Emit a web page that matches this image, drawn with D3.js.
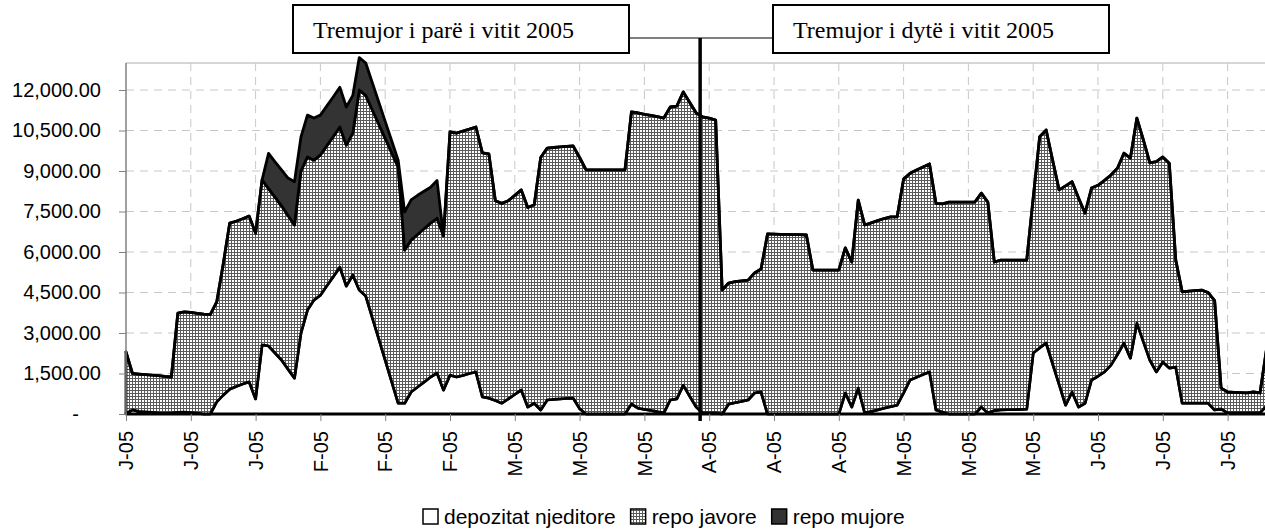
<!DOCTYPE html>
<html><head><meta charset="utf-8">
<script src="https://cdn.jsdelivr.net/npm/d3@7"></script>
<style>body{margin:0;background:#fff}</style>
</head><body>
<svg id="c" width="1265" height="531"></svg>
<script>
// ---- data ----
const tickLabels = ["J-05","J-05","J-05","F-05","F-05","F-05","M-05","M-05","M-05","A-05","A-05","A-05","M-05","M-05","M-05","J-05","J-05","J-05"];
const yTicks = [0,1500,3000,4500,6000,7500,9000,10500,12000];
const seriesNames = ["depozitat njeditore","repo javore","repo mujore"];
const quarterLabels = ["Tremujor i parë i vitit 2005","Tremujor i dytë i vitit 2005"];
const quarterBreak = 88.6; // position (in days) of the quarter divider

const depozitat = [30,150,100,80,60,40,30,40,60,70,
50,30,0,0,450,700,920,1020,1110,1190,
560,2560,2520,2260,2000,1660,1330,3000,3850,4220,
4400,4750,5090,5440,4740,5150,4590,4370,3580,2790,
2000,1200,400,400,815,1000,1180,1370,1520,890,
1440,1370,1430,1500,1560,630,590,500,400,560,
730,890,260,400,150,520,540,560,575,590,
200,0,0,0,0,0,0,0,370,220,
175,130,85,40,520,560,1070,660,260,40,
40,40,0,370,420,470,520,780,815,0,
0,0,0,0,0,0,0,0,0,0,
0,780,260,960,40,98,156,214,272,330,
780,1260,1360,1460,1560,150,75,0,0,0,
0,0,260,40,130,150,160,165,170,180,
2260,2450,2630,1860,1100,330,815,260,400,1260,
1400,1560,1810,2200,2630,2070,3370,2680,2000,1560,
1930,1700,1740,400,400,400,400,400,150,185,
40,40,40,40,40,40,300];

const repoJavore = [2270,1350,1380,1380,1380,1380,1360,1330,3680,3710,
3710,3700,3700,3680,3700,4850,6150,6120,6120,6140,
6140,6110,5830,5770,5710,5690,5670,6000,5670,5180,
5190,5190,5190,5190,5220,5250,7410,7430,7690,7950,
8210,8480,8750,5670,5625,5650,5680,5700,5730,5710,
9010,9030,9050,9050,9070,9040,9040,7400,7400,7340,
7370,7410,7390,7350,9350,9330,9330,9330,9335,9340,
9300,9040,9040,9040,9040,9040,9040,9040,10820,10930,
10925,10930,10925,10920,10850,10840,10860,10880,10890,10960,
10920,10850,4590,4480,4480,4460,4440,4440,4555,6670,
6660,6650,6650,6640,6640,6630,5330,5330,5330,5330,
5330,5370,5370,6960,6960,6982,7004,7026,7028,6970,
7920,7660,7680,7690,7700,7650,7705,7850,7850,7850,
7850,7850,7920,7810,5500,5550,5540,5535,5530,5520,
5740,7820,7890,7540,7200,8120,7785,7740,7040,7110,
7070,7090,7040,6900,7030,7410,7590,7470,7300,7790,
7590,7590,3960,4120,4150,4170,4190,4100,4050,775,
775,760,750,740,775,740,2100];

const repoMujore = [0,0,0,0,0,0,0,0,0,0,
0,0,0,0,0,0,0,0,0,0,
0,0,1300,1310,1330,1390,1600,1260,1550,1560,
1480,1470,1470,1470,1410,1400,1200,1200,1010,820,
630,440,250,1410,1490,1450,1390,1330,1400,0,
0,0,0,0,0,0,0,0,0,0,
0,0,0,0,0,0,0,0,0,0,
0,0,0,0,0,0,0,0,0,0,
0,0,0,0,0,0,0,0,0,0,
0,0,0,0,0,0,0,0,0,0,
0,0,0,0,0,0,0,0,0,0,
0,0,0,0,0,0,0,0,0,0,
0,0,0,0,0,0,0,0,0,0,
0,0,0,0,0,0,0,0,0,0,
0,0,0,0,0,0,0,0,0,0,
0,0,0,0,0,0,0,0,0,0,
0,0,0,0,0,0,0,0,0,0,
0,0,0,0,0,0,0];

// ---- chart ----
(function () {
const N = depozitat.length;
const tickIdx = tickLabels.map((_, k) => k * 10);
const svg = d3.select("#c");
const pL = 126, pT = 63, pB = 414;
const x = d3.scaleLinear().domain([0, N - 1]).range([pL, pL + (N - 1) * 6.48]);
const y = d3.scaleLinear().domain([0, 13000]).range([pB, pT]);
const sans = "'Liberation Sans', Arial, sans-serif";
const serif = "'Liberation Serif', 'Times New Roman', serif";

const defs = svg.append("defs");
const pat = defs.append("pattern").attr("id", "grid").attr("patternUnits", "userSpaceOnUse")
  .attr("width", 3).attr("height", 3);
pat.append("rect").attr("width", 3).attr("height", 3).attr("fill", "#fff");
pat.append("rect").attr("width", 3).attr("height", 1).attr("fill", "#5a5a5a");
pat.append("rect").attr("width", 1).attr("height", 3).attr("fill", "#5a5a5a");

// gridlines
const g = svg.append("g");
g.selectAll(".hg").data(yTicks.filter(v => v > 0)).join("line")
  .attr("x1", pL).attr("x2", 1265).attr("y1", d => y(d)).attr("y2", d => y(d))
  .attr("stroke", "#c8c8c8").attr("stroke-dasharray", "8,6");
g.selectAll(".vg").data(tickIdx.filter(v => v > 0)).join("line")
  .attr("x1", d => x(d)).attr("x2", d => x(d)).attr("y1", pT).attr("y2", pB)
  .attr("stroke", "#c8c8c8").attr("stroke-dasharray", "8,6");
g.append("line").attr("x1", pL).attr("x2", 1265).attr("y1", pT).attr("y2", pT)
  .attr("stroke", "#c8c8c8").attr("stroke-width", 1.5);

// stacked areas
const rows = depozitat.map((d, i) => ({ d: d, j: repoJavore[i], m: repoMujore[i] }));
const stack = d3.stack().keys(["d", "j", "m"])(rows);
const area = d3.area().x((d, i) => x(i)).y0(d => y(d[0])).y1(d => y(d[1]));
const fills = ["#ffffff", "url(#grid)", "#333333"];
svg.append("g").selectAll("path").data(stack).join("path")
  .attr("d", area).attr("fill", (d, i) => fills[i])
  .attr("stroke", "#000").attr("stroke-width", 2.8).attr("stroke-linejoin", "round");

// y axis
const ya = svg.append("g").attr("transform", `translate(${pL},0)`)
  .call(d3.axisLeft(y).tickValues(yTicks).tickSize(7).tickSizeOuter(0).tickPadding(18)
    .tickFormat(v => v === 0 ? "-" : d3.format(",.2f")(v)));
ya.select(".domain").attr("stroke", "#808080").attr("stroke-width", 1.5)
  .attr("d", `M0,${pT}V${pB}`);
ya.selectAll(".tick line").attr("stroke", "#808080");
ya.selectAll("text").attr("font-family", sans).attr("font-size", 20).attr("fill", "#000");
ya.selectAll(".tick").filter(d => d === 0).select("text").attr("x", -47);

// x axis
const xa = svg.append("g").attr("transform", `translate(0,${pB})`)
  .call(d3.axisBottom(x).tickValues(tickIdx).tickSize(7).tickSizeOuter(0)
    .tickFormat((d, k) => tickLabels[k]));
xa.select(".domain").remove();
xa.selectAll(".tick line").attr("stroke", "#808080");
xa.selectAll("text").attr("font-family", sans).attr("font-size", 20).attr("fill", "#000")
  .attr("transform", "rotate(-90)").attr("x", -17).attr("y", 0).attr("dy", "0.33em")
  .style("text-anchor", "end");

// quarter annotation
const divX = x(quarterBreak);
svg.append("line").attr("x1", 629).attr("x2", 773).attr("y1", 38).attr("y2", 38)
  .attr("stroke", "#000").attr("stroke-width", 1.2);
svg.append("line").attr("x1", divX).attr("x2", divX).attr("y1", 38).attr("y2", 421)
  .attr("stroke", "#000").attr("stroke-width", 3.5);
const boxes = [{ x0: 293, x1: 629 }, { x0: 773, x1: 1109 }];
boxes.forEach((b, k) => {
  svg.append("rect").attr("x", b.x0).attr("y", 5).attr("width", b.x1 - b.x0).attr("height", 48)
    .attr("fill", "#fff").attr("stroke", "#000").attr("stroke-width", 2);
  svg.append("text").attr("x", b.x0 + 20).attr("y", 38).attr("font-family", serif)
    .attr("font-size", 24).attr("fill", "#000").text(quarterLabels[k]);
});

// legend
const lg = svg.append("g");
let lx = 423;
seriesNames.forEach((name, k) => {
  lg.append("rect").attr("x", lx).attr("y", 509).attr("width", 15).attr("height", 15)
    .attr("fill", fills[k]).attr("stroke", "#000").attr("stroke-width", 1.5);
  const t = lg.append("text").attr("x", lx + 21).attr("y", 524).attr("font-family", sans)
    .attr("font-size", 21).attr("fill", "#000").text(name);
  lx = lx + 21 + t.node().getComputedTextLength() + 15;
});
})();
</script>
</body></html>
